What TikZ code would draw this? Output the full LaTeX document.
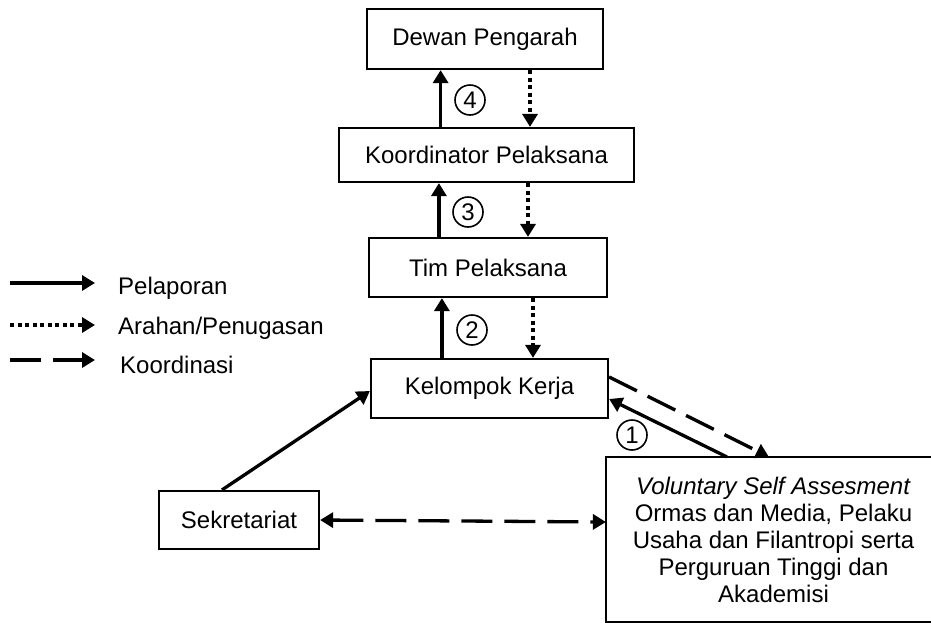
\documentclass[tikz,border=0pt]{standalone}
\usepackage{fontspec}
\setmainfont{Liberation Sans}
\usetikzlibrary{arrows.meta}
\begin{document}
\begin{tikzpicture}[x=1pt,y=-1pt,
  box/.style={draw,line width=2.2pt,align=center,inner sep=0pt,font=\fontsize{24}{27}\selectfont},
  lbl/.style={anchor=west,inner sep=0pt,font=\fontsize{24}{27}\selectfont},
  num/.style={draw,circle,line width=1.6pt,minimum size=30pt,inner sep=0pt,font=\fontsize{24}{27}\selectfont},
  rep/.style={line width=3.3pt,-{Triangle[length=13pt,width=15pt]}},
  dir/.style={line width=3.3pt,dash pattern=on 4pt off 3.5pt,-{Triangle[length=13pt,width=15pt]}},
  coord/.style={line width=3.3pt,dash pattern=on 31pt off 12pt,-{Triangle[length=13pt,width=15pt]}}]
\useasboundingbox (0,0) rectangle (931,622);
% boxes
\node[box,minimum width=236pt,minimum height=60pt] (dewan) at (485,39) {Dewan Pengarah};
\node[box,minimum width=295pt,minimum height=54pt] (koord) at (486.5,155) {Koordinator Pelaksana};
\node[box,minimum width=238pt,minimum height=59pt] (tim) at (488,267.5) {Tim Pelaksana};
\node[box,minimum width=237pt,minimum height=59pt] (kel) at (489.5,388.5) {Kelompok Kerja};
\node[box,minimum width=160pt,minimum height=58pt] (sek) at (239,520) {Sekretariat};
\node[box,draw=none,minimum width=333pt,minimum height=163pt] (vsa) at (773.5,539.5) {\textit{Voluntary Self Assesment}\\Ormas dan Media, Pelaku\\Usaha dan Filantropi serta\\Perguruan Tinggi dan\\Akademisi};
\draw[line width=2.2pt] ([xshift=60pt]vsa.north east) -- (vsa.north west) -- (vsa.south west) -- ([xshift=60pt]vsa.south east);
% numbers
\node[num] (n4) at (470,100) {4};
\node[num] (n3) at (468,212) {3};
\node[num] (n2) at (472,330) {2};
\node[num] (n1) at (632,435) {1};
% vertical connectors
\draw[rep] ([xshift=102.7pt]koord.north west) -- ([xshift=102.7pt]koord.north west |- dewan.south);
\draw[dir] ([xshift=45pt]dewan.south) -- ([xshift=45pt]dewan.south |- koord.north);
\draw[rep] ([xshift=71pt]tim.north west) -- ([xshift=71pt]tim.north west |- koord.south);
\draw[dir] ([xshift=41.5pt]koord.south) -- ([xshift=41.5pt]koord.south |- tim.north);
\draw[rep] ([xshift=72pt]kel.north west) -- ([xshift=72pt]kel.north west |- tim.south);
\draw[dir] ([xshift=45pt]tim.south) -- ([xshift=45pt]tim.south |- kel.north);
% diagonal connectors
\draw[rep] ([xshift=121pt]vsa.north west) -- ([yshift=-10.5pt]kel.east);
\draw[coord] ([yshift=11.5pt]kel.east) -- ([xshift=163pt]vsa.north west);
\draw[rep] ([xshift=-17pt]sek.north) -- ([yshift=-2.5pt]kel.west);
\draw[coord,{Triangle[length=13pt,width=15pt]}-{Triangle[length=13pt,width=15pt]}] (sek.east) -- ([yshift=-2pt]sek.east -| vsa.west);
% legend
\coordinate (l1a) at (10,283); \coordinate (l1b) at (95,283);
\coordinate (l2a) at (10,325); \coordinate (l2b) at (95,325);
\coordinate (l3a) at (10,360); \coordinate (l3b) at (95,360);
\draw[rep] (l1a) -- (l1b);
\draw[dir] (l2a) -- (l2b);
\draw[coord] (l3a) -- (l3b);
\node[lbl] (t1) at (118,288) {Pelaporan};
\node[lbl] (t2) at (118,328) {Arahan/Penugasan};
\node[lbl] (t3) at (120,365) {Koordinasi};
\end{tikzpicture}
\end{document}
